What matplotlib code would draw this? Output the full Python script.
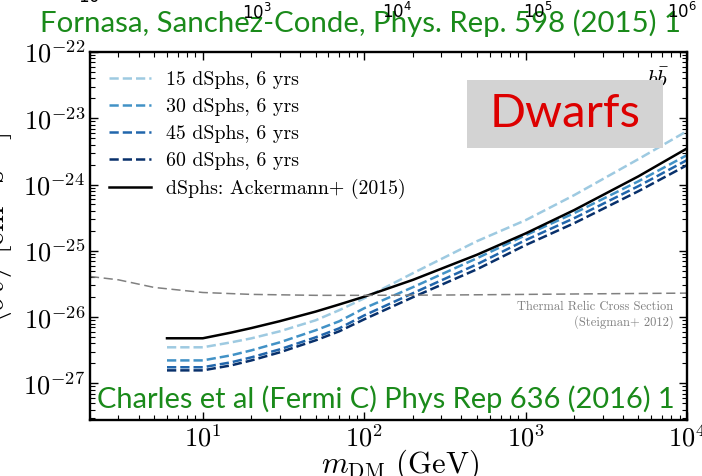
import matplotlib
matplotlib.use("Agg")
import matplotlib.pyplot as plt
import numpy as np

# ---- data ----
mass = [6, 10, 15, 20, 30, 50, 70, 100, 200, 500, 1000, 2000, 5000, 10000]
sv_15 = [3.50e-27, 3.50e-27, 4.16e-27, 4.78e-27, 6.10e-27, 8.95e-27, 1.27e-26, 1.92e-26,
         4.59e-26, 1.40e-25, 2.90e-25, 6.92e-25, 2.42e-24, 6.41e-24]
sv_30 = [2.22e-27, 2.22e-27, 2.65e-27, 3.15e-27, 4.16e-27, 6.32e-27, 8.64e-27, 1.36e-26,
         2.82e-26, 7.73e-26, 1.72e-25, 3.70e-25, 1.12e-24, 2.78e-24]
sv_45 = [1.75e-27, 1.75e-27, 2.08e-27, 2.47e-27, 3.26e-27, 4.95e-27, 6.77e-27, 1.06e-26,
         2.29e-26, 6.27e-26, 1.45e-25, 3.11e-25, 9.46e-25, 2.34e-24]
sv_60 = [1.57e-27, 1.57e-27, 1.87e-27, 2.22e-27, 2.94e-27, 4.46e-27, 6.10e-27, 9.26e-27,
         1.99e-26, 5.27e-26, 1.22e-25, 2.61e-25, 7.94e-25, 1.96e-24]
sv_ack = [4.79e-27, 4.79e-27, 5.84e-27, 6.83e-27, 8.68e-27, 1.21e-26, 1.55e-26, 2.03e-26,
          3.64e-26, 8.73e-26, 1.83e-25, 4.12e-25, 1.33e-24, 3.51e-24]

thermal_mass = [2, 3, 5, 10, 20, 50, 100, 300, 1000, 3000, 10000]
thermal_sv = [4.1e-26, 3.65e-26, 2.8e-26, 2.35e-26, 2.2e-26, 2.13e-26, 2.13e-26, 2.15e-26, 2.2e-26, 2.25e-26, 2.3e-26]

labels = ["15 dSphs, 6 yrs", "30 dSphs, 6 yrs", "45 dSphs, 6 yrs", "60 dSphs, 6 yrs"]
colors = ["#9ecae1", "#4292c6", "#2166ac", "#08306b"]
stray_top = ["$10^{2}$", "$10^{3}$", "$10^{4}$", "$10^{5}$", "$10^{6}$"]

plt.rcParams["mathtext.fontset"] = "cm"
plt.rcParams["font.family"] = ["cmr10", "DejaVu Serif"]
plt.rcParams["axes.formatter.use_mathtext"] = True

fig = plt.figure(figsize=(7.02, 4.76), dpi=100)
ax = fig.add_axes([90/702, 1-420/476, (687-90)/702, (420-52)/476])

for s, lab, c in zip([sv_15, sv_30, sv_45, sv_60], labels, colors):
    ax.plot(mass, s, ls="--", color=c, lw=1.8, label=lab)
ax.plot(mass, sv_ack, color="black", lw=1.8, label="dSphs: Ackermann+ (2015)")
ax.plot(thermal_mass, thermal_sv, ls=(0, (6, 3)), color="#808080", lw=1.1)

ax.set_xscale("log")
ax.set_yscale("log")
ax.set_xlim(2, 1e4)
ax.set_ylim(2.8e-28, 1e-22)

ax.tick_params(which="both", direction="in", top=True, right=True, labelsize=19)
ax.tick_params(which="major", length=6, width=1.0)
ax.tick_params(which="minor", length=3.5, width=0.8)
for sp in ax.spines.values():
    sp.set_linewidth(1.7)

ax.set_xlabel(r"$m_{\rm DM}$ (GeV)", fontsize=22)
ax.xaxis.set_label_coords(0.52, -0.075)
ax.set_ylabel(r"$\langle\sigma v\rangle$ [cm$^3$ s$^{-1}$]", fontsize=22)
ax.yaxis.set_label_coords(-0.125, 0.52)

leg = ax.legend(loc="upper left", frameon=False, fontsize=14.3, handlelength=2.1,
                handletextpad=0.8, bbox_to_anchor=(0.0, 1.0), labelspacing=0.45,
                borderaxespad=0.55, borderpad=0.4)

ax.text(0.97, 0.925, r"$b\bar{b}$", transform=ax.transAxes, ha="right", va="center", fontsize=16)

ax.text(0.977, 0.285, "Thermal Relic Cross Section\n(Steigman+ 2012)", transform=ax.transAxes,
        ha="right", va="center", fontsize=9, color="#808080", linespacing=1.2)

# Dwarfs box
fig.patches.append(plt.Rectangle((467/702, 1-148/476), (663-467)/702, (148-80)/476,
                                 transform=fig.transFigure, facecolor="#d3d3d3", edgecolor="none", zorder=5))
fig.text(565/702, 1-114/476, "Dwarfs", ha="center", va="center", fontsize=34, color="#dd0000",
         family="Lato", zorder=6)

fig.text(40/702, 1-32/476, "Fornasa, Sanchez-Conde, Phys. Rep. 598 (2015) 1", ha="left", va="baseline",
         fontsize=21.2, color="#1a8a1a", family="Lato", zorder=6)
fig.text(97/702, 1-408/476, "Charles et al (Fermi C) Phys Rep 636 (2016) 1", ha="left", va="baseline",
         fontsize=20.9, color="#1a8a1a", family="Lato", zorder=6)

stray_x = [78, 242, 382, 523, 667]
stray_y = [3, 19, 18, 18, 18]
for t, xx, yy in zip(stray_top, stray_x, stray_y):
    fig.text(xx/702, 1-yy/476, t, ha="left", va="baseline", fontsize=12, math_fontfamily="dejavusans",
             zorder=7)

fig.savefig("out.png", dpi=100)
